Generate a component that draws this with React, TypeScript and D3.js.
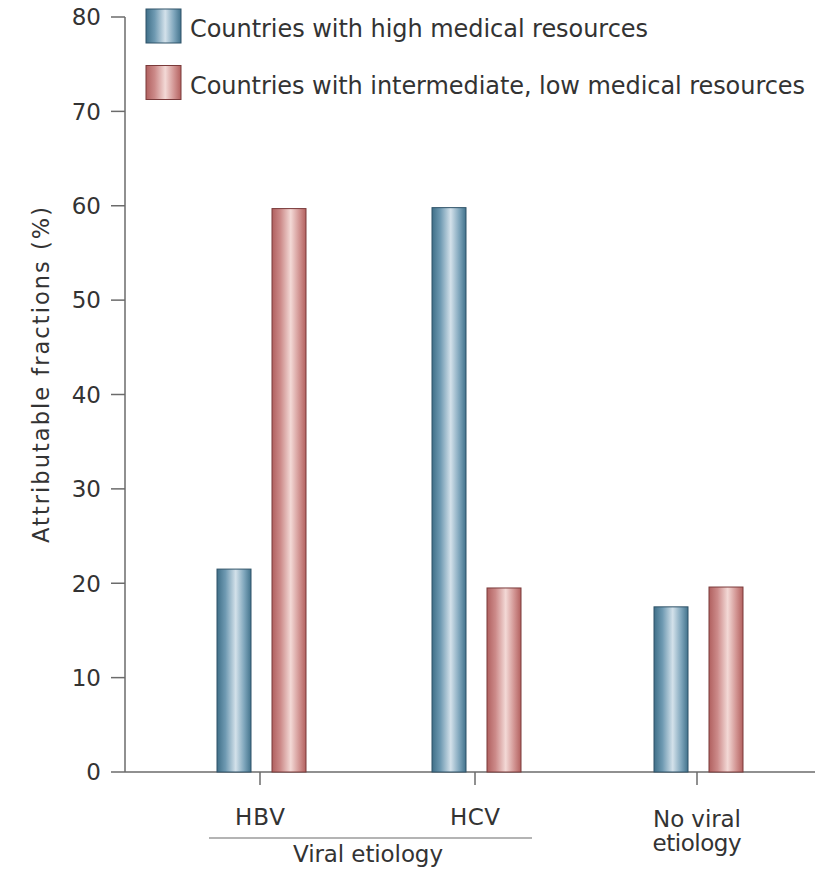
import React from "react";
import * as d3 from "d3";

const categories = ["HBV", "HCV", "No viral etiology"];
const seriesNames = [
  "Countries with high medical resources",
  "Countries with intermediate, low medical resources",
];
const highValues = [21.5, 59.8, 17.5];
const lowValues = [59.7, 19.5, 19.6];
const yTicks = [0, 10, 20, 30, 40, 50, 60, 70, 80];

const W = 815;
const H = 873;
const FONT = "'DejaVu Sans', Verdana, sans-serif";
const TEXT = "#333";
const AXIS = "#6b6b6b";

export default function App() {
  const y = d3.scaleLinear().domain([0, 80]).range([772, 17]);
  const xPos = d3.scaleOrdinal<string, number>().domain(categories).range([260, 475, 697]);
  const barW = 34;
  const series = [
    { name: seriesNames[0], values: highValues, grad: "gBlue", stroke: "#2f5368", offset: -9 - barW, len: 458 },
    { name: seriesNames[1], values: lowValues, grad: "gRed", stroke: "#7a3a3a", offset: 12, len: 615 },
  ];

  return (
    <svg width={W} height={H} style={{ display: "block", position: "absolute", left: 0, top: 0 }}>
      <defs>
        <linearGradient id="gBlue" x1="0" x2="1" y1="0" y2="0">
          <stop offset="0" stopColor="#3f6f88" />
          <stop offset="0.25" stopColor="#6f9ab2" />
          <stop offset="0.55" stopColor="#d3e1ea" />
          <stop offset="0.8" stopColor="#7fa6bc" />
          <stop offset="1" stopColor="#43738c" />
        </linearGradient>
        <linearGradient id="gRed" x1="0" x2="1" y1="0" y2="0">
          <stop offset="0" stopColor="#b0605f" />
          <stop offset="0.25" stopColor="#cc8a89" />
          <stop offset="0.55" stopColor="#f3d9d6" />
          <stop offset="0.8" stopColor="#d29593" />
          <stop offset="1" stopColor="#b3615f" />
        </linearGradient>
      </defs>
      <rect width={W} height={H} fill="#fff" />

      {/* y axis */}
      <line x1={125} x2={125} y1={y(80)} y2={y(0)} stroke={AXIS} strokeWidth={1.5} />
      {yTicks.map((t) => (
        <g key={t}>
          <line x1={111} x2={125} y1={y(t)} y2={y(t)} stroke={AXIS} strokeWidth={1.5} />
          <text x={101} y={y(t)} dy="0.36em" textAnchor="end" fontFamily={FONT} fontSize={23} fill={TEXT}>
            {t}
          </text>
        </g>
      ))}
      <text
        transform={`translate(49,375) rotate(-90)`}
        textAnchor="middle"
        fontFamily={FONT}
        fontSize={22.5}
        textLength={336}
        fill={TEXT}
      >
        Attributable fractions (%)
      </text>

      {/* x axis */}
      <line x1={125} x2={W} y1={y(0)} y2={y(0)} stroke={AXIS} strokeWidth={1.5} />
      {categories.map((c) => (
        <line key={c} x1={xPos(c)} x2={xPos(c)} y1={y(0)} y2={y(0) + 13} stroke={AXIS} strokeWidth={1.5} />
      ))}

      {/* bars */}
      {series.map((s) =>
        categories.map((c, i) => (
          <rect
            key={s.name + c}
            x={xPos(c) + s.offset}
            y={y(s.values[i])}
            width={barW}
            height={y(0) - y(s.values[i])}
            fill={`url(#${s.grad})`}
            stroke={s.stroke}
            strokeWidth={1}
          />
        ))
      )}

      {/* category labels */}
      <text x={xPos("HBV")} y={825} textAnchor="middle" fontFamily={FONT} fontSize={23} textLength={50} fill={TEXT}>HBV</text>
      <text x={xPos("HCV")} y={825} textAnchor="middle" fontFamily={FONT} fontSize={23} textLength={50} fill={TEXT}>HCV</text>
      <text x={xPos("No viral etiology")} y={827} textAnchor="middle" fontFamily={FONT} fontSize={23} textLength={88} fill={TEXT}>No viral</text>
      <text x={xPos("No viral etiology")} y={851} textAnchor="middle" fontFamily={FONT} fontSize={23} textLength={89} fill={TEXT}>etiology</text>
      <line x1={209} x2={532} y1={838} y2={838} stroke={AXIS} strokeWidth={1.2} />
      <text x={368} y={862} textAnchor="middle" fontFamily={FONT} fontSize={23} textLength={150} fill={TEXT}>Viral etiology</text>

      {/* legend */}
      {series.map((s, i) => (
        <g key={s.name} transform={`translate(146,${9 + i * 56.5})`}>
          <rect width={35} height={34} fill={`url(#${s.grad})`} stroke={s.stroke} strokeWidth={1} />
          <text x={44} y={28} fontFamily={FONT} fontSize={24} textLength={s.len} fill={TEXT}>
            {s.name}
          </text>
        </g>
      ))}
    </svg>
  );
}
